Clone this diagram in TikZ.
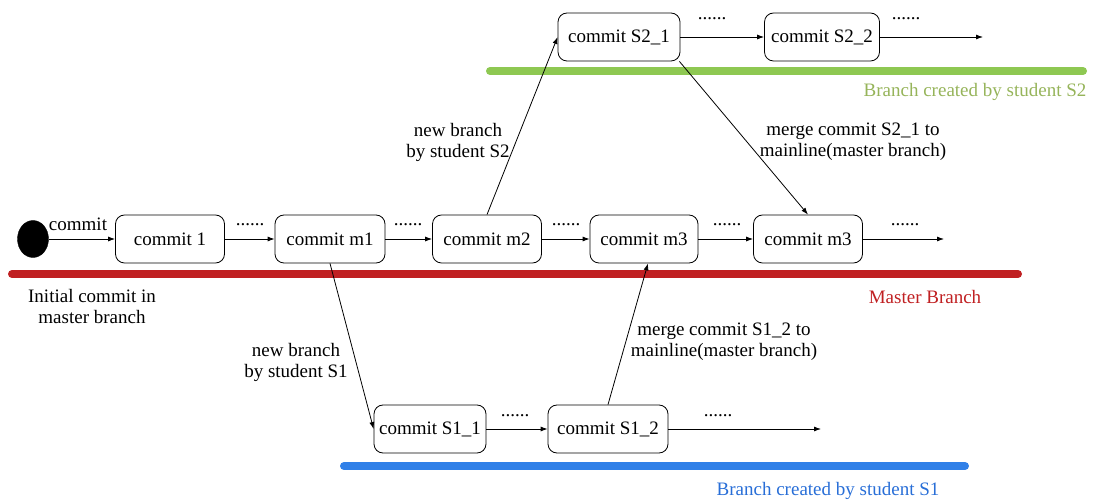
\documentclass[tikz,border=0pt]{standalone}
\usepackage{xcolor}
\usepackage{fontspec}
\setmainfont{Liberation Serif}
\usepackage{tikz}
\usetikzlibrary{shapes.geometric,calc,arrows.meta}

\definecolor{masterred}{RGB}{192,32,34}
\definecolor{sgreen}{RGB}{142,200,82}
\definecolor{sgreentext}{RGB}{150,180,90}
\definecolor{sblue}{RGB}{48,128,232}
\definecolor{sbluetext}{RGB}{40,110,215}

\tikzset{
  commitbox/.style={draw,rounded corners=9pt,line width=0.8pt,minimum height=48pt,inner sep=0pt,font=\fontsize{19}{21}\selectfont},
  lbl/.style={inner sep=0.75pt,align=center,font=\fontsize{19}{21}\selectfont},
  dotlbl/.style={inner sep=0pt,font=\fontsize{19}{19}\selectfont},
  link/.style={-{Latex[length=7pt,width=5pt]},line width=0.8pt},
  bar/.style={line width=8pt,line cap=round}
}

\begin{document}
\begin{tikzpicture}[x=1pt,y=-1pt]
\useasboundingbox (0,0) rectangle (1095,502);
% branch bars
\draw [bar,masterred] (12,274) -- (1018,274) ;
\draw [bar,sgreen] (490,71) -- (1083,71) ;
\draw [bar,sblue] (344,466) -- (965,466) ;
% master line
\node [draw,fill=black,ellipse,minimum width=31pt,minimum height=37pt,inner sep=0pt] (init) at (33,239) {};
\node [commitbox,minimum width=109pt] (c1) at (170,239) {commit 1};
\node [commitbox,minimum width=110pt] (m1) at (330,239) {commit m1};
\node [commitbox,minimum width=109pt] (m2) at (487,239) {commit m2};
\node [commitbox,minimum width=108pt] (m3) at (644,239) {commit m3};
\node [commitbox,minimum width=109pt] (m3b) at (808,239) {commit m3};
\coordinate (mend) at (944,239);
% student S2
\node [commitbox,minimum width=122pt] (s21) at (619,37) {commit S2\_1};
\node [commitbox,minimum width=115pt] (s22) at (822,37) {commit S2\_2};
\coordinate (s2end) at (983,37);
% student S1
\node [commitbox,minimum width=112pt] (s11) at (430,429) {commit S1\_1};
\node [commitbox,minimum width=120pt] (s12) at (608,429) {commit S1\_2};
\coordinate (s1end) at (821,429);
% connectors
\draw [link] (init) -- (c1) ;
\draw [link] (c1) -- (m1) ;
\draw [link] (m1) -- (m2) ;
\draw [link] (m2) -- (m3) ;
\draw [link] (m3) -- (m3b) ;
\draw [link] (m3b) -- (mend) ;
\draw [link] (s21) -- (s22) ;
\draw [link] (s22) -- (s2end) ;
\draw [link] (s11) -- (s12) ;
\draw [link] (s12) -- (s1end) ;
\draw [link] (m1.south) -- (s11.west) ;
\draw [link] (m2.north) -- (s21.west) ;
\draw [link] (s21.-22) -- (m3b.north) ;
\draw [link] (s12.north) -- ($(m3.south)+(4,0)$) ;
%Text
\node [lbl] (tcommit) at (78,224) {commit};
\node [dotlbl] (d1) at (250,225) {......};
\node [dotlbl] (d2) at (408,225) {......};
\node [dotlbl] (d3) at (566,225) {......};
\node [dotlbl] (d4) at (727,225) {......};
\node [dotlbl] (d5) at (905,225) {......};
\node [dotlbl] (d6) at (712,19) {......};
\node [dotlbl] (d7) at (906,19) {......};
\node [dotlbl] (d8) at (515,416) {......};
\node [dotlbl] (d9) at (718,416) {......};
\node [lbl] (tinit) at (92,307) {Initial commit in\\master branch};
\node [lbl,masterred] (tmaster) at (925,297) {Master Branch};
\node [lbl,sgreentext] (ts2) at (975,92) {Branch created by student S2};
\node [lbl,sbluetext] (ts1) at (828,491) {Branch created by student S1};
\node [lbl] (tnew2) at (458,142) {new branch\\by student S2};
\node [lbl] (tmerge2) at (853,142) {merge commit S2\_1 to\\mainline(master branch)};
\node [lbl] (tnew1) at (296,362) {new branch\\by student S1};
\node [lbl] (tmerge1) at (724,342) {merge commit S1\_2 to\\mainline(master branch)};
\end{tikzpicture}
\end{document}
